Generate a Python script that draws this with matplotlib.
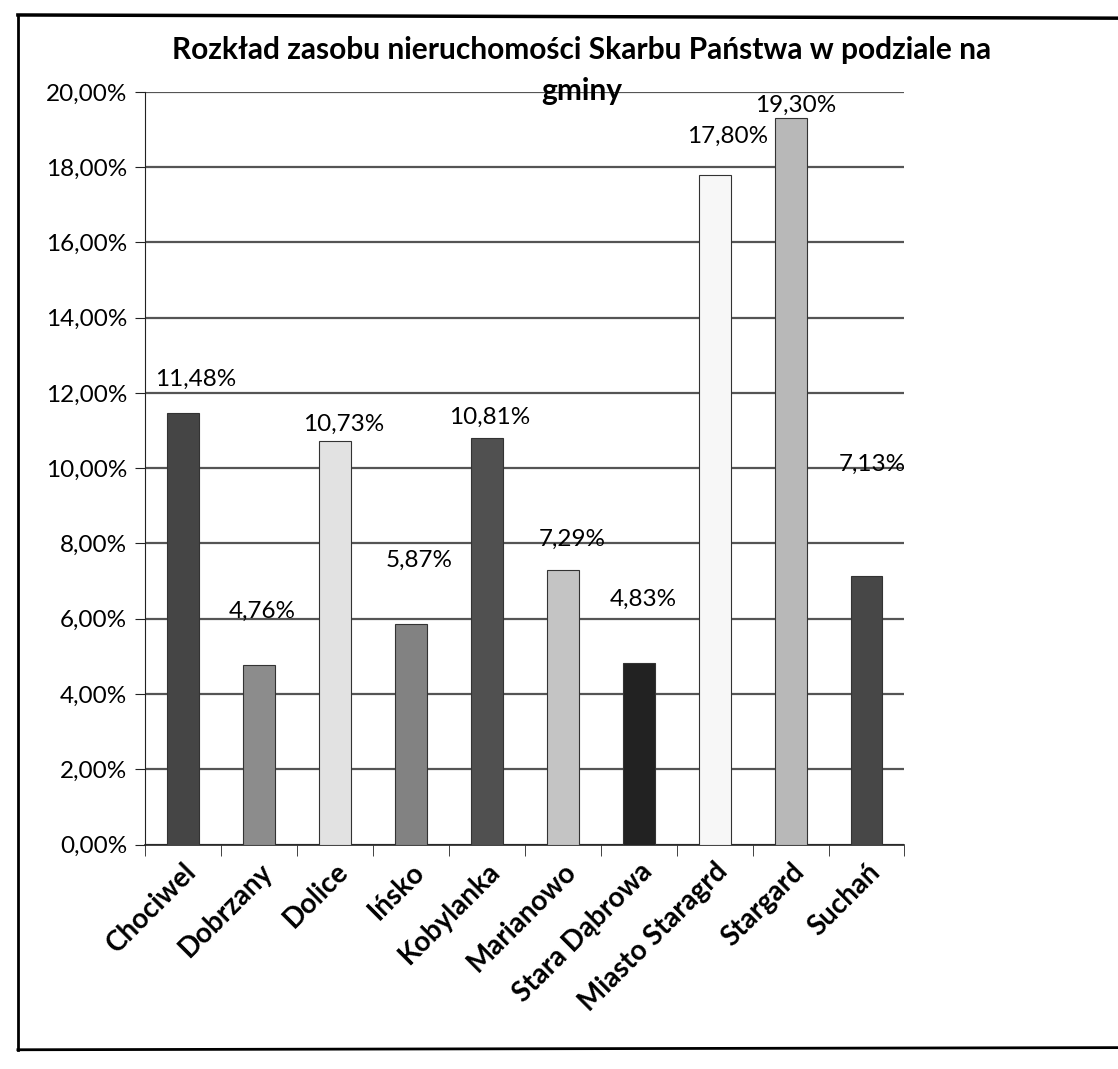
import matplotlib.pyplot as plt
from matplotlib.ticker import FuncFormatter, MultipleLocator
from matplotlib.lines import Line2D
import numpy as np

# Data
gminy = ['Chociwel', 'Dobrzany', 'Dolice', 'Ińsko', 'Kobylanka', 'Marianowo',
         'Stara Dąbrowa', 'Miasto Staragrd', 'Stargard', 'Suchań']
udzial = [11.48, 4.76, 10.73, 5.87, 10.81, 7.29, 4.83, 17.80, 19.30, 7.13]
kolory = ['#454545', '#8c8c8c', '#e2e2e2', '#828282', '#505050', '#c4c4c4',
          '#222222', '#f7f7f7', '#b8b8b8', '#474747']
# label offsets from bar tops (points), as placed in the original
label_dy = [16, 31, 4, 38, 7, 15, 38, 20, 2, 73]
label_dx = [9, 2, 6, 6, 2, 7, 3, 9, 4, 4]

plt.rcParams['font.family'] = ['Lato', 'DejaVu Sans']

fig = plt.figure(figsize=(11.18, 10.69), dpi=100)
ax = fig.add_axes([0.130, 0.210, 0.679, 0.704])

x = np.arange(len(gminy))
bars = ax.bar(x, udzial, width=0.42, color=kolory, edgecolor='#333333',
              linewidth=0.8, zorder=3)

for i, b in enumerate(bars):
    ax.annotate(f'{udzial[i]:.2f}%'.replace('.', ','),
                (b.get_x() + b.get_width() / 2, b.get_height()),
                xytext=(label_dx[i], label_dy[i]), textcoords='offset points',
                ha='center', va='bottom', fontsize=17.5, zorder=4)

ax.set_ylim(0, 20)
ax.set_xlim(-0.5, len(gminy) - 0.5)
ax.yaxis.set_major_locator(MultipleLocator(2))
ax.yaxis.set_major_formatter(FuncFormatter(lambda v, p: f'{v:.2f}%'.replace('.', ',')))
ax.grid(axis='y', color='#555555', linewidth=1.6, zorder=0)
ax.set_axisbelow(True)

ax.set_xticks(x)
ax.set_xticklabels(gminy, rotation=45, ha='right', rotation_mode='anchor',
                   fontsize=20, fontweight='bold')
ax.tick_params(axis='x', length=0, pad=10)
ax.set_xticks(np.arange(-0.5, len(gminy)), minor=True)
ax.tick_params(axis='x', which='minor', length=8, direction='out', color='#222222')
ax.tick_params(axis='y', labelsize=17.5, length=7, pad=6, direction='out', color='#222222')

ax.spines['top'].set_visible(False)
ax.spines['right'].set_visible(False)
ax.spines['left'].set_color('#222222')
ax.spines['bottom'].set_color('#222222')
ax.spines['bottom'].set_linewidth(1.2)

# title in two lines, as wrapped in the original
fig.text(0.52, 0.953, 'Rozkład zasobu nieruchomości Skarbu Państwa w podziale na',
         ha='center', va='center', fontsize=21.5, fontweight='bold')
fig.text(0.52, 0.915, 'gminy', ha='center', va='center', fontsize=21.5, fontweight='bold')

# outer frame of the scanned page
fig.add_artist(Line2D([0.016, 1.0], [0.986, 0.983], color='black', linewidth=2.5,
                      transform=fig.transFigure))
fig.add_artist(Line2D([0.016, 0.016], [0.986, 0.018], color='black', linewidth=2,
                      transform=fig.transFigure))
fig.add_artist(Line2D([0.016, 1.0], [0.018, 0.020], color='black', linewidth=2,
                      transform=fig.transFigure))

fig.savefig('out.png', dpi=100)
